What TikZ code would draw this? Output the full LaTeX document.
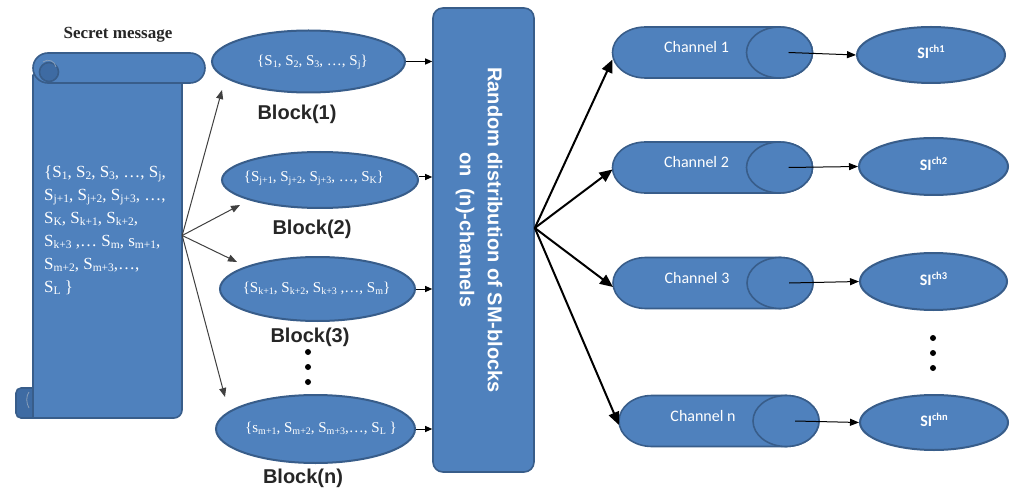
\documentclass[tikz,border=0pt]{standalone}
\usepackage{fontspec}
\setmainfont{Liberation Serif}
\setsansfont{Liberation Sans}
\newfontfamily\calib{Carlito}
\usetikzlibrary{arrows.meta,shapes.geometric}

\definecolor{boxblue}{HTML}{4F81BD}
\definecolor{boxedge}{HTML}{385D8A}
\definecolor{curlblue}{HTML}{3E6BA3}

% lowered indices for the two text sizes, raised index for the SI labels
\newcommand\lo[1]{\raisebox{-2.5pt}{\fontsize{11.5}{11.5}\selectfont #1}}
\newcommand\los[1]{\raisebox{-2pt}{\fontsize{10}{10}\selectfont #1}}
\newcommand\hi[1]{\raisebox{6pt}{\fontsize{10.5}{10.5}\selectfont #1}}

% a horizontal cylinder: name, x, y, label
\newcommand\channel[4]{%
  \node[chanbox] (#1) at (#2,#3) {};
  \draw[shapeline] ([xshift=33pt]#1.north west) -- ([xshift=-33pt]#1.north east)
    arc[start angle=90, end angle=-90, x radius=33pt, y radius=25.5pt]
    -- ([xshift=33pt]#1.south west)
    arc[start angle=270, end angle=90, x radius=33pt, y radius=25.5pt] -- cycle;
  \draw[shapeline] ([xshift=-33pt]#1.east) ellipse[x radius=33pt, y radius=25.5pt];
  \node[chantxt] at ([xshift=-16pt,yshift=5pt]#1.center) {#4};
}

\begin{document}
\begin{tikzpicture}[x=1pt,y=-1pt,
  shapeline/.style={fill=boxblue, draw=boxedge, line width=1.6pt, line join=round},
  blob/.style={ellipse, fill=boxblue, draw=boxedge, line width=2pt, inner sep=0pt},
  chanbox/.style={rectangle, minimum width=200pt, minimum height=51pt, inner sep=0pt, outer sep=0pt},
  panel/.style={rectangle, rounded corners=10pt, fill=boxblue, draw=boxedge, line width=1.6pt,
    minimum width=101pt, minimum height=464pt, inner sep=0pt},
  sectitle/.style={font=\fontsize{17}{17}\selectfont\bfseries, text=black!85},
  scrolltxt/.style={text=white, font=\fontsize{17}{23}\selectfont, align=left, inner sep=0pt},
  blocktxt/.style={text=white, font=\fontsize{15}{15}\selectfont, inner sep=0pt},
  blocklbl/.style={font=\sffamily\bfseries\fontsize{20}{20}\selectfont, text=black!85},
  disttxt/.style={text=white, font=\sffamily\bfseries\fontsize{20}{28}\selectfont, align=center, rotate=-90},
  chantxt/.style={text=white, font=\calib\fontsize{16}{16}\selectfont},
  situxt/.style={text=white, font=\calib\bfseries\fontsize{16}{16}\selectfont},
  fanarrow/.style={draw=black!75, line width=1pt, -{Triangle[length=9pt,width=7pt]}},
  feedarrow/.style={draw=black, line width=1pt, -{Triangle[length=7pt,width=6pt]}},
  splitarrow/.style={draw=black, line width=2pt, -{Triangle[length=13pt,width=11pt]}},
  outarrow/.style={draw=black, line width=1pt, -{Triangle[length=9pt,width=7pt]}},
  dot/.style={fill=black}
]
\useasboundingbox (0,0) rectangle (1016,494);
\fill[white] (0,0) rectangle (1016,494);

% ---------- secret message scroll ----------
\node[sectitle] (title) at (118,35) {Secret message};
\node[minimum width=149pt, minimum height=335pt, inner sep=0pt] (scroll) at (107.5,235.5) {};
% bottom-left curl
\draw[shapeline, fill=curlblue, rounded corners=5pt] (40,388) -- (16,388) -- (16,418) -- (40,418);
% body
\draw[shapeline] (33,75) -- (33,418) -- (174,418)
  arc[start angle=-90, end angle=0, radius=8pt] -- (182,75) -- cycle;
\draw[boxedge!60!white, line width=0.8pt] (29,392) .. controls (26,396) and (26,403) .. (29,408);
% top roll
\draw[shapeline, rounded corners=15pt] (33,53) rectangle (205,83);
\draw[shapeline, fill=curlblue] (49,72) circle (9.5pt);
\draw[boxedge!60!white, line width=0.8pt] (43,62) .. controls (48,58) and (55,61) .. (56,67);
\node[scrolltxt, anchor=west] (msg) at (44,230) {%
  \{S\lo{1}, S\lo{2}, S\lo{3}, …, S\lo{j},\\
  S\lo{j+1}, S\lo{j+2}, S\lo{j+3}, …,\\
  S\lo{K}, S\lo{k+1}, S\lo{k+2},\\
  S\lo{k+3} ,… S\lo{m}, s\lo{m+1},\\
  S\lo{m+2}, S\lo{m+3},…,\\
  S\lo{L} \}};

% ---------- blocks ----------
\node[blob, minimum width=193pt, minimum height=62pt] (b1) at (308.5,61.5) {};
\node[blob, minimum width=196pt, minimum height=56pt] (b2) at (320,180) {};
\node[blob, minimum width=195pt, minimum height=64pt] (b3) at (317.5,289) {};
\node[blob, minimum width=199pt, minimum height=68pt] (bn) at (315.5,429) {};

\node[blocktxt] (t1) at (312.5,62) {\{S\los{1}, S\los{2}, S\los{3}, …, S\los{j}\}};
\node[blocktxt] (t2) at (314,178) {\{S\los{j+1}, S\los{j+2}, S\los{j+3}, …, S\los{K}\}};
\node[blocktxt] (t3) at (316.5,288) {\{S\los{k+1}, S\los{k+2}, S\los{k+3} ,…, S\los{m}\}};
\node[blocktxt] (tn) at (321,428) {\{s\los{m+1}, S\los{m+2}, S\los{m+3},…, S\los{L} \}};

\node[blocklbl] (l1) at (297,114) {Block(1)};
\node[blocklbl] (l2) at (312,229) {Block(2)};
\node[blocklbl] (l3) at (310,337) {Block(3)};
\node[blocklbl] (ln) at (303,478) {Block(n)};

\fill[dot] (308,352) circle (3pt) (308,367) circle (3pt) (308,382) circle (3pt);

% ---------- distribution panel ----------
\node[panel] (dist) at (483.5,240) {};
\node[disttxt] (dtext) at (479,230) {Random distribution of SM-blocks\\on\ \ (n)-channels};
\coordinate (hub) at ([yshift=12pt]dist.east);

% ---------- channels ----------
\channel{c1}{712.5}{52.5}{Channel 1}
\channel{c2}{712.5}{167.5}{Channel 2}
\channel{c3}{713}{283}{Channel 3}
\channel{cn}{719}{421}{Channel n}

% ---------- SI ellipses ----------
\node[blob, minimum width=148pt, minimum height=56pt] (s1) at (931,55) {};
\node[blob, minimum width=149pt, minimum height=57pt] (s2) at (933.5,166.5) {};
\node[blob, minimum width=147pt, minimum height=57pt] (s3) at (933.5,281.5) {};
\node[blob, minimum width=148pt, minimum height=55pt] (sn) at (934,422.5) {};
\node[situxt] at ([yshift=3pt]s1.center) {SI\hi{ch1}};
\node[situxt] at ([yshift=3pt]s2.center) {SI\hi{ch2}};
\node[situxt] at ([yshift=3pt]s3.center) {SI\hi{ch3}};
\node[situxt] at ([yshift=3pt]sn.center) {SI\hi{chn}};

\fill[dot] (933,338) circle (3pt) (933,353) circle (3pt) (933,368) circle (3pt);

% ---------- connectors ----------
\draw[fanarrow] (scroll.east) -- ([xshift=-86.5pt,yshift=-28.5pt]b1.center);
\draw[fanarrow] (scroll.east) -- ([xshift=-80pt,yshift=-25pt]b2.center);
\draw[fanarrow] (scroll.east) -- ([xshift=-80.5pt,yshift=27pt]b3.center);
\draw[fanarrow] (scroll.east) -- ([xshift=-90.5pt,yshift=32pt]bn.center);

\draw[feedarrow] (b1.east) -- (b1.east -| dist.west);
\draw[feedarrow] ([yshift=3pt]b2.east) -- ([yshift=3pt]b2.east -| dist.west);
\draw[feedarrow] (b3.east) -- (b3.east -| dist.west);
\draw[feedarrow] (bn.east) -- (bn.east -| dist.west);

\draw[splitarrow] (hub) -- ([yshift=-7pt]c1.west);
\draw[splitarrow] (hub) -- ([yshift=-2pt]c2.west);
\draw[splitarrow] (hub) -- ([yshift=-4pt]c3.west);
\draw[splitarrow] (hub) -- ([yshift=-4pt]cn.west);

\draw[outarrow] ([xshift=-24pt]c1.east) -- (s1.west);
\draw[outarrow] ([xshift=-24pt]c2.east) -- (s2.west);
\draw[outarrow] ([xshift=-24pt]c3.east) -- (s3.west);
\draw[outarrow] ([xshift=-24pt]cn.east) -- (sn.west);
\end{tikzpicture}
\end{document}
